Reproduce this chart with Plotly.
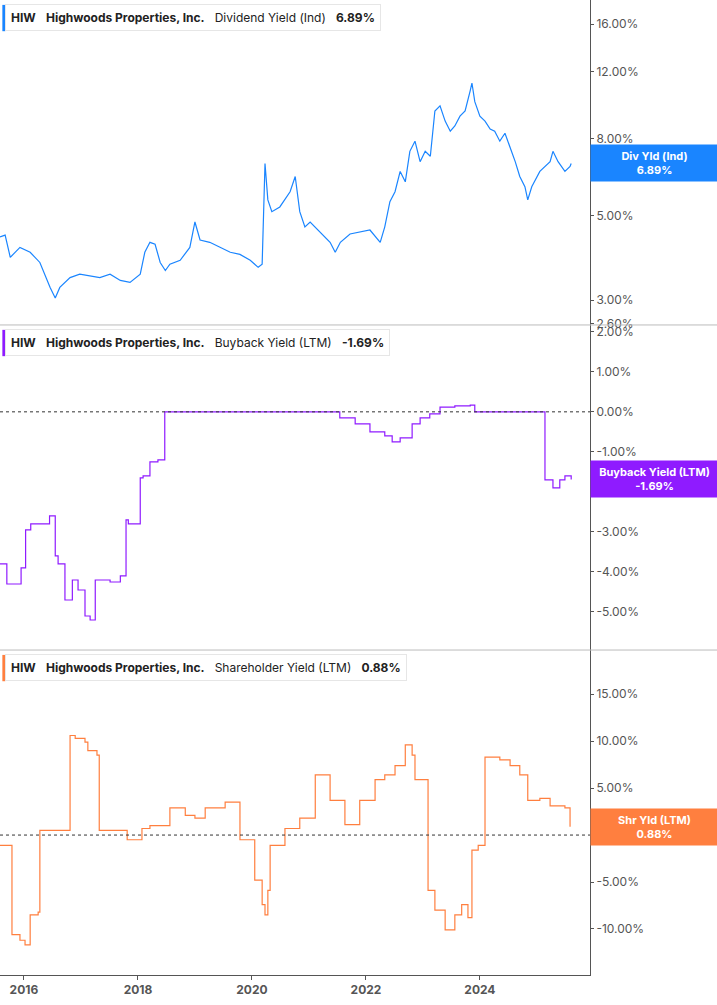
import plotly.graph_objects as go
from datetime import datetime, timedelta
import math

def d(y):
    yr = int(y); return datetime(yr,1,1)+timedelta(days=(y-yr)*365.25)

div_t = [2015.58,2015.67,2015.76,2015.93,2016.11,2016.28,2016.46,2016.55,2016.63,2016.81,2016.98,2017.16,2017.33,2017.51,2017.69,2017.86,2018.04,2018.12,2018.21,2018.30,2018.39,2018.48,2018.56,2018.74,2018.91,2019.00,2019.09,2019.26,2019.44,2019.62,2019.79,2019.97,2020.11,2020.18,2020.23,2020.28,2020.35,2020.49,2020.67,2020.76,2020.84,2020.93,2021.02,2021.19,2021.37,2021.46,2021.55,2021.72,2021.90,2022.07,2022.25,2022.33,2022.42,2022.51,2022.60,2022.69,2022.77,2022.86,2022.95,2023.04,2023.13,2023.21,2023.30,2023.39,2023.48,2023.56,2023.65,2023.74,2023.83,2023.86,2023.91,2024.00,2024.09,2024.18,2024.26,2024.35,2024.44,2024.53,2024.62,2024.70,2024.79,2024.84,2024.91,2025.05,2025.14,2025.23,2025.28,2025.37,2025.49,2025.58,2025.60]
div_v = [4.40,4.45,3.89,4.13,4.01,3.77,3.24,3.04,3.24,3.44,3.51,3.47,3.44,3.51,3.38,3.34,3.51,4.01,4.26,4.21,3.77,3.59,3.73,3.82,4.13,4.82,4.32,4.26,4.13,4.01,3.96,3.82,3.66,3.73,6.87,5.51,5.13,5.28,5.79,6.35,5.13,4.68,4.82,4.53,4.26,4.01,4.26,4.48,4.53,4.59,4.26,4.68,5.45,5.79,6.55,6.15,7.40,7.87,6.95,7.40,7.18,9.45,9.75,8.89,8.36,8.63,9.16,9.45,10.7,11.2,10.0,9.16,8.89,8.47,8.36,7.87,8.26,7.62,6.95,6.35,5.97,5.51,5.97,6.55,6.75,6.95,7.40,6.95,6.55,6.75,6.87]

bb_t = [2015.58,2015.70,2015.85,2015.95,2016.03,2016.12,2016.45,2016.55,2016.60,2016.72,2016.85,2016.95,2017.07,2017.16,2017.25,2017.33,2017.51,2017.69,2017.79,2017.83,2018.04,2018.09,2018.21,2018.35,2018.47,2018.56,2021.54,2021.81,2022.07,2022.33,2022.46,2022.60,2022.81,2022.95,2023.12,2023.30,2023.56,2023.83,2023.91,2025.11,2025.14,2025.28,2025.40,2025.49,2025.60]
bb_v = [-3.8,-4.3,-4.3,-3.9,-2.95,-2.8,-2.6,-3.6,-3.8,-4.7,-4.2,-4.45,-5.1,-5.2,-4.2,-4.2,-4.25,-4.1,-2.7,-2.8,-1.65,-1.6,-1.25,-1.2,0.0,0.0,-0.15,-0.3,-0.5,-0.6,-0.75,-0.65,-0.3,-0.15,-0.05,0.12,0.15,0.17,0.0,0.0,-1.7,-1.9,-1.7,-1.6,-1.69]

sh_t = [2015.58,2015.79,2015.93,2016.02,2016.11,2016.25,2016.28,2016.77,2016.81,2016.90,2017.07,2017.12,2017.28,2017.32,2017.79,2017.81,2018.07,2018.21,2018.56,2018.83,2019.00,2019.18,2019.53,2019.79,2020.05,2020.18,2020.23,2020.28,2020.32,2020.58,2020.84,2021.11,2021.37,2021.63,2021.89,2022.16,2022.33,2022.51,2022.69,2022.81,2022.86,2023.09,2023.21,2023.39,2023.56,2023.68,2023.79,2023.86,2023.97,2024.09,2024.35,2024.53,2024.70,2024.84,2025.05,2025.23,2025.49,2025.58]
sh_v = [-1.1,-10.6,-11.2,-11.7,-8.5,-8.2,0.5,0.5,10.6,10.3,9.9,9.0,8.5,0.5,0.5,-0.5,0.7,1.0,2.9,2.1,1.8,2.9,3.5,-0.5,-4.8,-7.4,-8.5,-5.9,-1.1,0.7,1.8,6.4,3.7,1.1,3.7,5.9,6.4,7.4,9.6,8.5,5.9,-5.9,-8.0,-10.1,-8.5,-7.4,-8.8,-1.6,-1.1,8.3,8.0,7.4,6.4,3.7,3.9,3.1,2.9,0.88]

tick_years = ["2016","2018","2020","2022","2024"]

GRAY = "#555"
fig = go.Figure()
fig.add_trace(go.Scatter(x=[d(t) for t in div_t], y=div_v, mode="lines", line=dict(color="#1a85ff", width=1.2), yaxis="y3"))
fig.add_trace(go.Scatter(x=[d(t) for t in bb_t], y=bb_v, mode="lines", line=dict(color="#8f1bff", width=1.2, shape="hv"), yaxis="y2"))
fig.add_trace(go.Scatter(x=[d(t) for t in sh_t], y=sh_v, mode="lines", line=dict(color="#ff7f3f", width=1.2, shape="hv"), yaxis="y"))

ax = dict(side="right", showgrid=False, zeroline=False, ticks="outside", ticklen=3, tickcolor=GRAY,
          showline=True, linecolor=GRAY, linewidth=1, tickfont=dict(family="Inter", size=12, color=GRAY), anchor="x")
fig.update_layout(
    width=717, height=1005, margin=dict(l=0, r=127, t=0, b=30), showlegend=False,
    plot_bgcolor="white", paper_bgcolor="white",
    xaxis=dict(range=[d(2015.58), d(2025.93)], tickvals=[d(int(y)) for y in tick_years], ticktext=tick_years,
               showgrid=False, showline=True, linecolor=GRAY, ticks="outside", ticklen=4, tickcolor=GRAY,
               tickfont=dict(family="Inter", size=12, color=GRAY, weight="bold")),
    yaxis=dict(domain=[0, 0.3333], range=[-14.9, 19.7], tickvals=[-10,-5,0,5,10,15],
               ticktext=["-10.00%","-5.00%","0.00%","5.00%","10.00%","15.00%"], **ax),
    yaxis2=dict(domain=[0.3333, 0.6667], range=[-5.95, 2.17], tickvals=[-5,-4,-3,-2,-1,0,1,2],
                ticktext=["-5.00%","-4.00%","-3.00%","-2.00%","-1.00%","0.00%","1.00%","2.00%"], **ax),
    yaxis3=dict(domain=[0.6667, 1], type="log", range=[math.log10(2.58), 1.268], tickvals=[2.6,3,5,7,8,12,16],
                ticktext=["2.60%","3.00%","5.00%","7.00%","8.00%","12.00%","16.00%"], **ax),
)
for yref in ["y2", "y"]:
    fig.add_shape(type="line", xref="paper", yref=yref, x0=0, x1=1, y0=0, y1=0, line=dict(color="#333", width=1, dash="dot"))
for yp in [0.3333, 0.6667]:
    fig.add_shape(type="line", xref="paper", yref="paper", x0=0, x1=1.22, y0=yp, y1=yp, line=dict(color="#bbb", width=1))

legs = [("Dividend Yield (Ind)","6.89%","#1a85ff",1.0),("Buyback Yield (LTM)","-1.69%","#8f1bff",0.6667),("Shareholder Yield (LTM)","0.88%","#ff7f3f",0.3333)]
for name,val,col,top in legs:
    fig.add_annotation(xref="paper", yref="paper", x=0.009, y=top-0.004, xanchor="left", yanchor="top", showarrow=False,
        text=f"<b>HIW</b>   <b>Highwoods Properties, Inc.</b>   {name}   <b>{val}</b>",
        font=dict(family="Inter", size=12, color="#222"), bgcolor="white", bordercolor="#e6e6e6", borderwidth=1, borderpad=5)
    fig.add_shape(type="rect", xref="paper", yref="paper", x0=0.004, x1=0.009, y0=top-0.032, y1=top-0.005, fillcolor=col, line_width=0)

tags = [("Div Yld (Ind)","6.89%","#1a85ff","y3",6.89),("Buyback Yield (LTM)","-1.69%","#8f1bff","y2",-1.69),("Shr Yld (LTM)","0.88%","#ff7f3f","y",0.88)]
for name,val,col,yr,v in tags:
    fig.add_annotation(xref="paper", yref=yr, x=1.0, y=math.log10(v) if yr=="y3" else v, xanchor="left", yanchor="middle", showarrow=False,
        text=f"<b>{name}</b><br><b>{val}</b>", font=dict(family="Inter", size=11, color="white"),
        bgcolor=col, width=119, borderpad=4, align="center")
fig.write_html("out.html", config={"displayModeBar": False},
               post_script="document.body.style.margin='0';document.body.style.overflow='hidden';")
